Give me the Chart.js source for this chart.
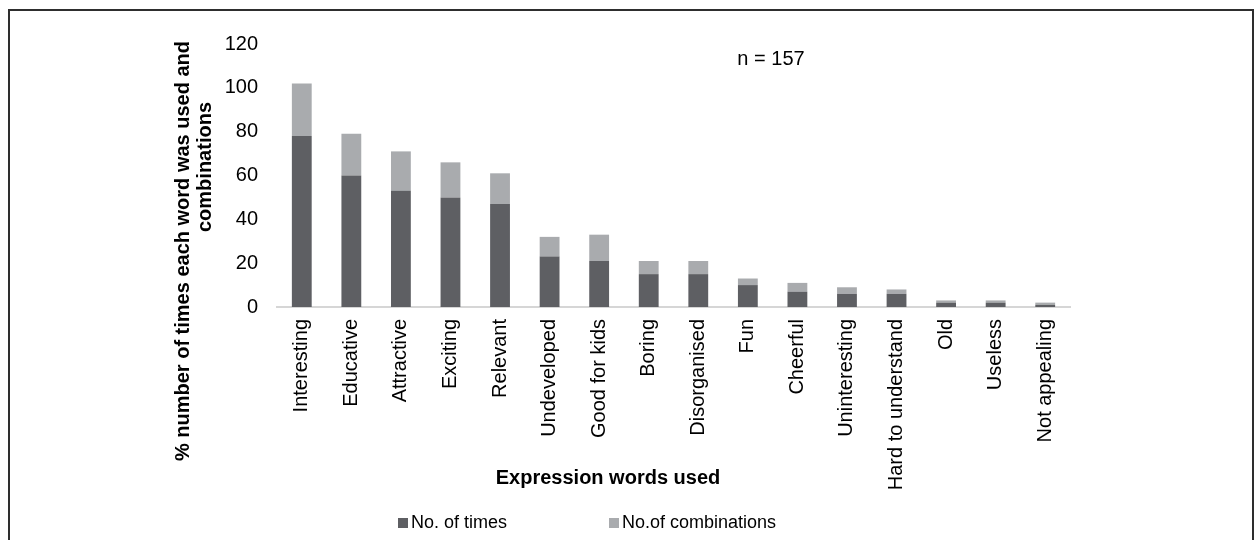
<!DOCTYPE html>
<html lang="en">
<head>
    <meta charset="UTF-8">
    <title>Expression words used</title>
    <script src="https://cdn.jsdelivr.net/npm/chart.js@4.4.1/dist/chart.umd.min.js"></script>
    <style>
        body { margin: 0; background: #fff; overflow: hidden; }
        .wrap { position: relative; width: 1256px; height: 540px; }
        .frame { position: absolute; left: 8px; top: 9px; width: 1242px; height: 600px;
                 border: 2px solid #2e2e2e; border-bottom: none; }
        #wordChart { position: absolute; left: 0; top: 0; }
    </style>
</head>
<body>
<div class="wrap">
    <div class="frame"></div>
    <canvas id="wordChart" width="1256" height="540"></canvas>
</div>
<script>
const categories = ['Interesting', 'Educative', 'Attractive', 'Exciting', 'Relevant', 'Undeveloped',
    'Good for kids', 'Boring', 'Disorganised', 'Fun', 'Cheerful', 'Uninteresting',
    'Hard to understand', 'Old', 'Useless', 'Not appealing'];
const timesUsed = [78, 60, 53, 50, 47, 23, 21, 15, 15, 10, 7, 6, 6, 2, 2, 1];
const combinations = [24, 19, 18, 16, 14, 9, 12, 6, 6, 3, 4, 3, 2, 1, 1, 1];
const seriesNames = ['No. of times', 'No.of combinations'];
const seriesColors = ['#5e5f63', '#a9abae'];
const yMax = 120;
const yStep = 20;

const font = '"Liberation Sans", Arial, sans-serif';

// titles, sample size note and legend drawn straight on the canvas
const extraText = {
    id: 'extraText',
    afterDraw(chart) {
        const ctx = chart.ctx;
        ctx.save();
        ctx.fillStyle = '#000';
        ctx.textAlign = 'center';
        ctx.textBaseline = 'middle';

        ctx.font = 'bold 20px ' + font;
        ctx.fillText('Expression words used', 608, 478);

        ctx.save();
        ctx.translate(183, 251);
        ctx.rotate(-Math.PI / 2);
        ctx.fillText('% number of times each word was used and', 0, 0);
        ctx.restore();
        ctx.save();
        ctx.translate(205, 167);
        ctx.rotate(-Math.PI / 2);
        ctx.fillText('combinations', 0, 0);
        ctx.restore();

        ctx.font = '20px ' + font;
        ctx.fillText('n = 157', 771, 59);

        // legend
        ctx.font = '18px ' + font;
        ctx.textAlign = 'left';
        const legendX = [398, 609];
        chart.data.datasets.forEach((ds, i) => {
            ctx.fillStyle = ds.backgroundColor;
            ctx.fillRect(legendX[i], 518, 10, 10);
            ctx.fillStyle = '#000';
            ctx.fillText(ds.label, legendX[i] + 13, 523);
        });
        ctx.restore();
    }
};

const ctx = document.getElementById('wordChart').getContext('2d');
const wordChart = new Chart(ctx, {
    type: 'bar',
    data: {
        labels: categories,
        datasets: [
            {
                label: seriesNames[0],
                data: timesUsed,
                backgroundColor: seriesColors[0],
                borderWidth: 0
            },
            {
                label: seriesNames[1],
                data: combinations,
                backgroundColor: seriesColors[1],
                borderWidth: 0
            }
        ]
    },
    options: {
        responsive: false,
        animation: false,
        layout: { padding: { left: 217, top: 44, right: 186, bottom: 0 } },
        plugins: {
            legend: { display: false },
            tooltip: { enabled: false }
        },
        datasets: {
            bar: { categoryPercentage: 1, barPercentage: 0.4 }
        },
        scales: {
            x: {
                stacked: true,
                grid: { display: false, drawTicks: false },
                border: { display: true, color: '#d6d6d6', width: 2 },
                ticks: {
                    color: '#000',
                    font: { family: font, size: 20 },
                    minRotation: 90,
                    maxRotation: 90,
                    autoSkip: false,
                    padding: 12
                },
                afterFit(scale) { scale.height = 233; }
            },
            y: {
                stacked: true,
                min: 0,
                max: yMax,
                grid: { display: false, drawTicks: false },
                border: { display: false },
                ticks: {
                    stepSize: yStep,
                    color: '#000',
                    font: { family: font, size: 20 },
                    padding: 19
                },
                afterFit(scale) { scale.width = 60; }
            }
        }
    },
    plugins: [extraText]
});
</script>
</body>
</html>
